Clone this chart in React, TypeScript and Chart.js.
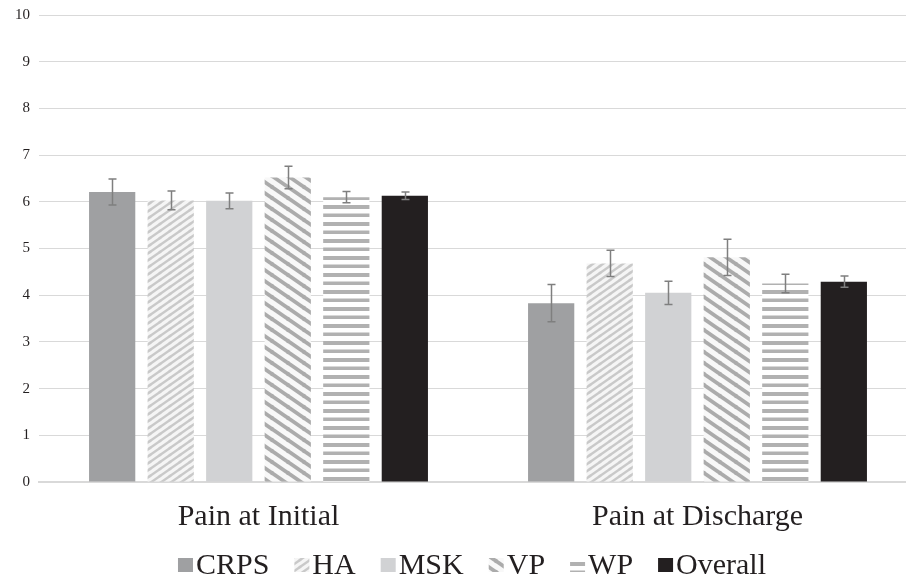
import React, { useEffect, useRef } from "react";
import { Chart, registerables } from "chart.js";

Chart.register(...registerables);

const categories = ["Pain at Initial", "Pain at Discharge"];
const seriesNames = ["CRPS", "HA", "MSK", "VP", "WP", "Overall"];
const crps = [6.21, 3.83];
const ha = [6.03, 4.68];
const msk = [6.02, 4.05];
const vp = [6.52, 4.81];
const wp = [6.1, 4.25];
const overall = [6.13, 4.29];
const crpsErr = [0.28, 0.4];
const haErr = [0.2, 0.28];
const mskErr = [0.17, 0.25];
const vpErr = [0.24, 0.39];
const wpErr = [0.12, 0.2];
const overallErr = [0.08, 0.12];
const yTicks = [0, 1, 2, 3, 4, 5, 6, 7, 8, 9, 10];

const SERIF = "'Liberation Serif', 'Times New Roman', serif";

function diagPattern(w: number, h: number, lw: number, fg: string, bg: string, up: boolean) {
  const c = document.createElement("canvas");
  c.width = w;
  c.height = h;
  const ctx = c.getContext("2d")!;
  ctx.fillStyle = bg;
  ctx.fillRect(0, 0, w, h);
  ctx.strokeStyle = fg;
  ctx.lineWidth = lw;
  for (let k = -1; k <= 1; k++) {
    for (const dy of [-h, 0, h]) {
      ctx.beginPath();
      if (up) {
        ctx.moveTo(k * w - 1, h + dy + h / w);
        ctx.lineTo(k * w + w + 1, dy - h / w);
      } else {
        ctx.moveTo(k * w - 1, dy - h / w);
        ctx.lineTo(k * w + w + 1, h + dy + h / w);
      }
      ctx.stroke();
    }
  }
  return ctx.createPattern(c, "repeat")!;
}

function hPattern(fg: string, bg: string) {
  const c = document.createElement("canvas");
  c.width = 4;
  c.height = 17;
  const ctx = c.getContext("2d")!;
  ctx.fillStyle = bg;
  ctx.fillRect(0, 0, 4, 17);
  ctx.fillStyle = fg;
  ctx.fillRect(0, 1, 4, 4);
  ctx.fillRect(0, 9.5, 4, 3.5);
  return ctx.createPattern(c, "repeat")!;
}

export default function App() {
  const ref = useRef<HTMLCanvasElement>(null);

  useEffect(() => {
    const canvas = ref.current!;
    const haFill = diagPattern(10, 7, 2.4, "#c9c9c9", "#f5f5f5", true);
    const vpFill = diagPattern(16, 11, 3.8, "#ababab", "#f8f8f8", false);
    const wpFill = hPattern("#b1b1b1", "#ffffff");

    const fills: any[] = ["#9fa0a2", haFill, "#d1d2d4", vpFill, wpFill, "#231f20"];
    const values = [crps, ha, msk, vp, wp, overall];
    const errs = [crpsErr, haErr, mskErr, vpErr, wpErr, overallErr];

    const errorBars = {
      id: "errorBars",
      afterDatasetsDraw(chart: any) {
        const ctx = chart.ctx;
        const y = chart.scales.y;
        ctx.save();
        ctx.strokeStyle = "#7f7f7f";
        ctx.lineWidth = 1.5;
        chart.data.datasets.forEach((ds: any, di: number) => {
          const meta = chart.getDatasetMeta(di);
          meta.data.forEach((bar: any, i: number) => {
            const v = ds.data[i];
            const e = errs[di][i];
            const x = Math.round(bar.x) + 0.5;
            const yt = y.getPixelForValue(v + e);
            const yb = y.getPixelForValue(v - e);
            ctx.beginPath();
            ctx.moveTo(x, yt);
            ctx.lineTo(x, yb);
            ctx.moveTo(x - 4, yt);
            ctx.lineTo(x + 4, yt);
            ctx.moveTo(x - 4, yb);
            ctx.lineTo(x + 4, yb);
            ctx.stroke();
          });
        });
        ctx.restore();
      },
    };

    const customLegend = {
      id: "customLegend",
      afterDraw(chart: any) {
        const ctx = chart.ctx;
        ctx.save();
        ctx.font = `30px ${SERIF}`;
        const boxW = 15;
        const boxH = 14;
        const gapText = 3;
        const gapItem = 25;
        const widths = chart.data.datasets.map((ds: any) => boxW + gapText + ctx.measureText(ds.label).width);
        const total = widths.reduce((a: number, b: number) => a + b, 0) + gapItem * (widths.length - 1);
        let x = 472 - total / 2;
        const cy = 566;
        chart.data.datasets.forEach((ds: any, i: number) => {
          ctx.fillStyle = ds.backgroundColor;
          ctx.fillRect(x, cy - boxH / 2 - 1, boxW, boxH);
          ctx.fillStyle = "#231f20";
          ctx.textBaseline = "middle";
          ctx.textAlign = "left";
          ctx.fillText(ds.label, x + boxW + gapText, cy);
          x += widths[i] + gapItem;
        });
        ctx.restore();
      },
    };

    const chart = new Chart(canvas, {
      type: "bar",
      data: {
        labels: categories,
        datasets: seriesNames.map((name, i) => ({
          label: name,
          data: values[i],
          backgroundColor: fills[i],
          borderWidth: 0,
          categoryPercentage: 0.8,
          barPercentage: 0.79,
        })),
      },
      options: {
        responsive: false,
        animation: false,
        devicePixelRatio: 1,
        layout: { padding: { top: 15, right: 3, left: 0, bottom: 0 } },
        plugins: {
          legend: { display: false },
          tooltip: { enabled: false },
        },
        scales: {
          x: {
            grid: { display: false, drawTicks: false },
            border: { display: true, color: "#d9d9d9", width: 2 },
            ticks: {
              padding: 17,
              color: "#231f20",
              font: { family: SERIF, size: 30 },
            },
            afterFit(scale: any) {
              scale.height = 98;
            },
          },
          y: {
            min: 0,
            max: 10,
            afterBuildTicks(scale: any) {
              scale.ticks = yTicks.map((v) => ({ value: v }));
            },
            grid: { color: "#d9d9d9", lineWidth: 1, drawTicks: false },
            border: { display: false },
            ticks: {
              padding: 9,
              color: "#231f20",
              font: { family: SERIF, size: 15, lineHeight: 0.6 },
            },
            afterFit(scale: any) {
              scale.width = 39;
            },
          },
        },
      },
      plugins: [errorBars, customLegend],
    });
    return () => chart.destroy();
  }, []);

  return (
    <div style={{ position: "fixed", left: 0, top: 0, width: 906, height: 580, overflow: "hidden", background: "#fff" }}>
      <canvas ref={ref} width={920} height={580} style={{ display: "block" }} />
    </div>
  );
}
